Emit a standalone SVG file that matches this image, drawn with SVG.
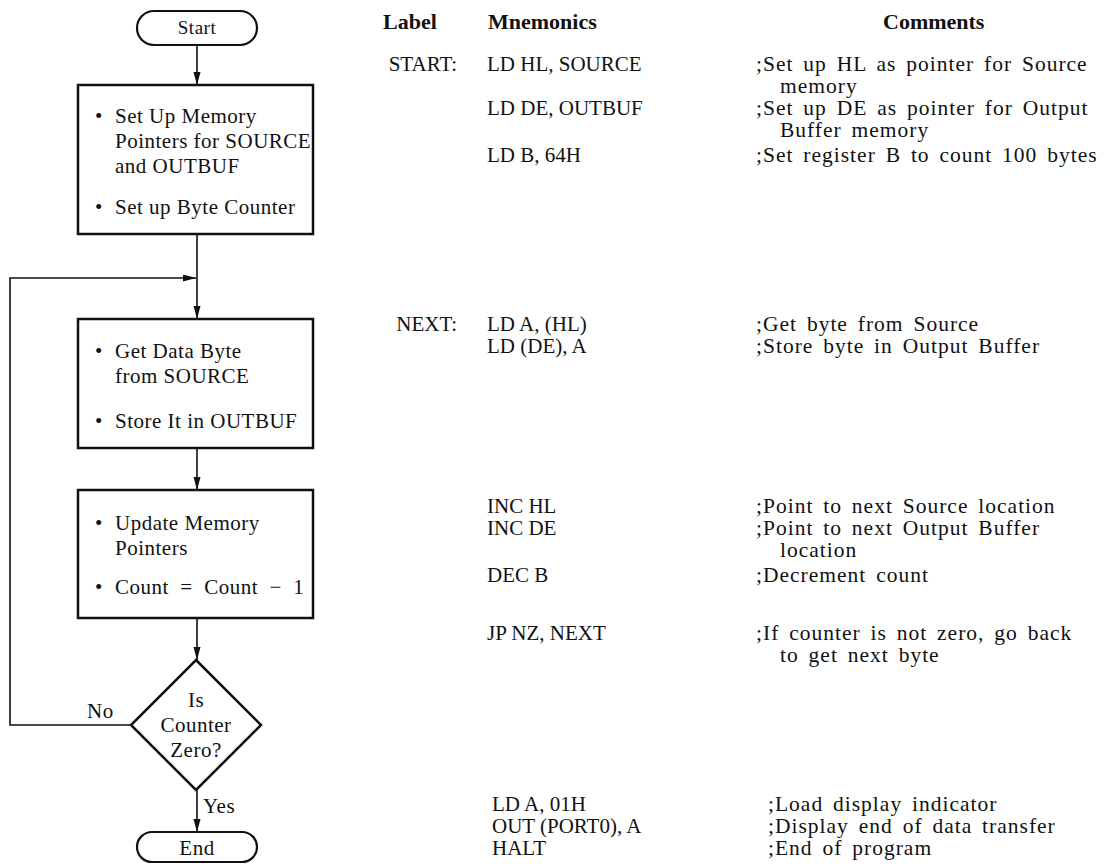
<svg xmlns="http://www.w3.org/2000/svg" width="1113" height="864" viewBox="0 0 1113 864">
<style>
.t{font-family:"Liberation Serif","Times New Roman",serif;font-size:21px;fill:#111}
.b{font-family:"Liberation Serif","Times New Roman",serif;font-size:21px;fill:#111;letter-spacing:0.5px}
.h{font-family:"Liberation Serif","Times New Roman",serif;font-size:22px;font-weight:bold;fill:#111}
.c{font-family:"Liberation Serif","Times New Roman",serif;font-size:21.5px;fill:#111;letter-spacing:1px;word-spacing:3.5px}
.m{text-anchor:middle}
.e{text-anchor:end}
.box{fill:#fff;stroke:#111;stroke-width:2.5}
.term{fill:#fff;stroke:#111;stroke-width:2.2}
.ln{fill:none;stroke:#111;stroke-width:1.6}
</style>
<defs>
<marker id="arr" markerUnits="userSpaceOnUse" markerWidth="13" markerHeight="8" refX="13" refY="3.5" orient="auto">
<path d="M0,0 L13,3.5 L0,7 Z" fill="#111"/>
</marker>
</defs>
<rect width="1113" height="864" fill="#fff"/>

<g id="connectors">
<line class="ln" x1="197" y1="45" x2="197" y2="85" marker-end="url(#arr)"/>
<line class="ln" x1="197" y1="234" x2="197" y2="319" marker-end="url(#arr)"/>
<line class="ln" x1="197" y1="448" x2="197" y2="490" marker-end="url(#arr)"/>
<line class="ln" x1="197" y1="618" x2="197" y2="660" marker-end="url(#arr)"/>
<line class="ln" x1="197" y1="790" x2="197" y2="832" marker-end="url(#arr)"/>
<polyline class="ln" points="131,725 10,725 10,278 196,278" marker-end="url(#arr)"/>
<text class="b" x="87" y="718">No</text>
<text class="b" x="203" y="813">Yes</text>
</g>

<g id="start">
<rect class="term" x="137" y="11" width="120" height="34" rx="17"/>
<text class="b m" x="197" y="34" style="font-size:19px">Start</text>
</g>

<g id="setup">
<rect class="box" x="78" y="85" width="235" height="149"/>
<text class="b"><tspan x="95" y="123">•</tspan><tspan x="115" y="123">Set Up Memory</tspan></text>
<text class="b" x="115" y="148">Pointers for SOURCE</text>
<text class="b" x="115" y="173">and OUTBUF</text>
<text class="b"><tspan x="95" y="214">•</tspan><tspan x="115" y="214">Set up Byte Counter</tspan></text>
</g>

<g id="getbyte">
<rect class="box" x="78" y="319" width="235" height="129"/>
<text class="b"><tspan x="95" y="358">•</tspan><tspan x="115" y="358">Get Data Byte</tspan></text>
<text class="b" x="115" y="383">from SOURCE</text>
<text class="b"><tspan x="95" y="428">•</tspan><tspan x="115" y="428">Store It in OUTBUF</tspan></text>
</g>

<g id="update">
<rect class="box" x="78" y="490" width="235" height="128"/>
<text class="b"><tspan x="95" y="530">•</tspan><tspan x="115" y="530">Update Memory</tspan></text>
<text class="b" x="115" y="555">Pointers</text>
<text class="b"><tspan x="95" y="594">•</tspan><tspan x="115" y="594" xml:space="preserve">Count  =  Count  −  1</tspan></text>
</g>

<g id="decision">
<polygon class="box" points="196,660 261,725 196,790 131,725"/>
<text class="b m" x="196" y="707">Is</text>
<text class="b m" x="196" y="732">Counter</text>
<text class="b m" x="196" y="757">Zero?</text>
</g>

<g id="end">
<rect class="term" x="137" y="832" width="120" height="30" rx="15"/>
<text class="b m" x="197" y="855">End</text>
</g>

<g id="listing">
<text class="h" x="383" y="29">Label</text>
<text class="h" x="488" y="29">Mnemonics</text>
<text class="h" x="883" y="29">Comments</text>

<text class="t e" x="457" y="71">START:</text>
<text class="t" x="487" y="71">LD HL, SOURCE</text>
<text class="c" x="756" y="71">;Set up HL as pointer for Source</text>
<text class="c" x="780" y="93">memory</text>
<text class="t" x="487" y="115">LD DE, OUTBUF</text>
<text class="c" x="756" y="115">;Set up DE as pointer for Output</text>
<text class="c" x="780" y="137">Buffer memory</text>
<text class="t" x="487" y="162">LD B, 64H</text>
<text class="c" x="756" y="162">;Set register B to count 100 bytes</text>

<text class="t e" x="457" y="331">NEXT:</text>
<text class="t" x="487" y="331">LD A, (HL)</text>
<text class="c" x="756" y="331">;Get byte from Source</text>
<text class="t" x="487" y="353">LD (DE), A</text>
<text class="c" x="756" y="353">;Store byte in Output Buffer</text>

<text class="t" x="487" y="513">INC HL</text>
<text class="c" x="756" y="513">;Point to next Source location</text>
<text class="t" x="487" y="535">INC DE</text>
<text class="c" x="756" y="535">;Point to next Output Buffer</text>
<text class="c" x="780" y="557">location</text>
<text class="t" x="487" y="582">DEC B</text>
<text class="c" x="756" y="582">;Decrement count</text>

<text class="t" x="487" y="640">JP NZ, NEXT</text>
<text class="c" x="756" y="640">;If counter is not zero, go back</text>
<text class="c" x="780" y="662">to get next byte</text>

<text class="t" x="492" y="811">LD A, 01H</text>
<text class="c" x="768" y="811">;Load display indicator</text>
<text class="t" x="492" y="833">OUT (PORT0), A</text>
<text class="c" x="768" y="833">;Display end of data transfer</text>
<text class="t" x="492" y="855">HALT</text>
<text class="c" x="768" y="855">;End of program</text>
</g>
</svg>
